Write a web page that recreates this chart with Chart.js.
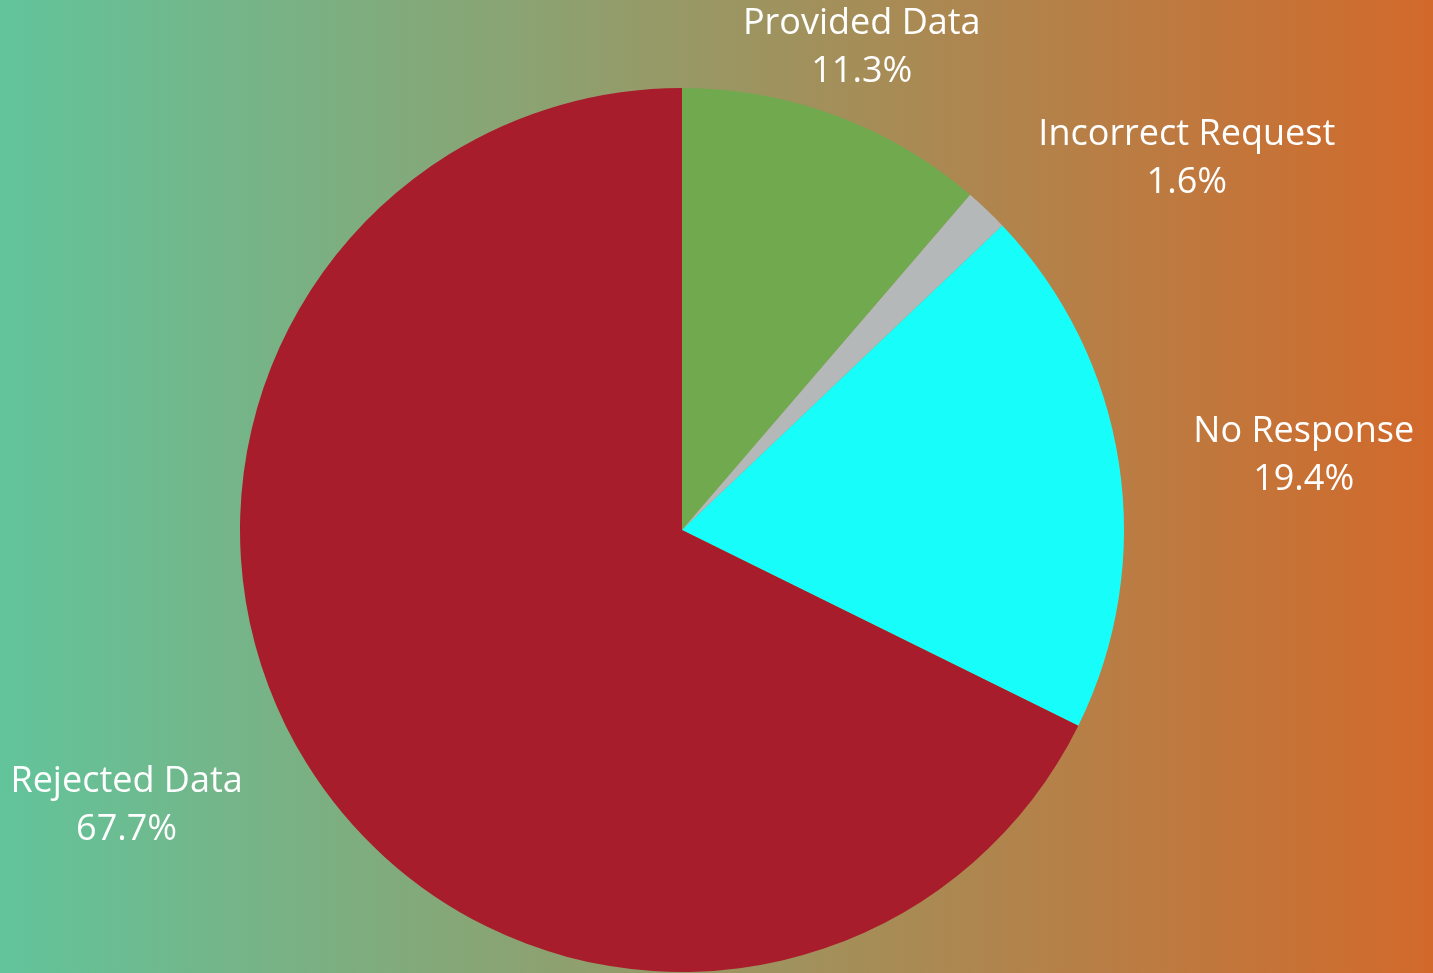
<!DOCTYPE html>
<html>
<head>
<meta charset="utf-8">
<script src="https://cdn.jsdelivr.net/npm/chart.js@4/dist/chart.umd.min.js"></script>
<style>
html,body{margin:0;padding:0;background:#fff;}
#wrap{width:1433px;height:973px;position:relative;}
canvas{display:block;}
</style>
</head>
<body>
<div id="wrap"><canvas id="c" width="1433" height="973"></canvas></div>
<script>
const categories = ["Provided Data", "Incorrect Request", "No Response", "Rejected Data"];
const values = [11.3, 1.6, 19.4, 67.7];
const sliceColors = ["#70a94e", "#b5b8b8", "#17fefa", "#a71d2b"];

const bgPlugin = {
  id: 'bg',
  beforeDraw(chart) {
    const ctx = chart.ctx;
    const g = ctx.createLinearGradient(0, 0, chart.width, 0);
    g.addColorStop(0, '#62c49b');
    g.addColorStop(1, '#d2692b');
    ctx.save();
    ctx.fillStyle = g;
    ctx.fillRect(0, 0, chart.width, chart.height);
    ctx.restore();
  }
};

const labelPlugin = {
  id: 'outLabels',
  afterDraw(chart) {
    const ctx = chart.ctx;
    const meta = chart.getDatasetMeta(0);
    const total = values.reduce((a, b) => a + b, 0);
    ctx.save();
    ctx.font = '36px "Open Sans", sans-serif';
    ctx.fillStyle = '#ffffff';
    ctx.textBaseline = 'middle';
    meta.data.forEach((arc, i) => {
      const mid = (arc.startAngle + arc.endAngle) / 2;
      const r = arc.outerRadius * 1.17;
      const ax = arc.x + Math.cos(mid) * r;
      const ay = arc.y + Math.sin(mid) * r;
      const l1 = categories[i];
      const l2 = (values[i] / total * 100).toFixed(1) + '%';
      const w = Math.max(ctx.measureText(l1).width, ctx.measureText(l2).width);
      const c = Math.cos(mid);
      let cx;
      if (Math.abs(c) < 0.5) cx = ax;
      else if (c > 0) cx = ax + w / 2;
      else cx = ax - w / 2;
      ctx.textAlign = 'center';
      ctx.fillText(l1, cx, ay - 21);
      ctx.fillText(l2, cx, ay + 27);
    });
    ctx.restore();
  }
};

new Chart(document.getElementById('c'), {
  type: 'pie',
  data: {
    labels: categories,
    datasets: [{
      data: values,
      backgroundColor: sliceColors,
      borderWidth: 0
    }]
  },
  options: {
    responsive: false,
    animation: false,
    layout: { padding: { top: 88, bottom: 1, left: 0, right: 69 } },
    plugins: { legend: { display: false }, tooltip: { enabled: false } }
  },
  plugins: [bgPlugin, labelPlugin]
});
</script>
</body>
</html>
